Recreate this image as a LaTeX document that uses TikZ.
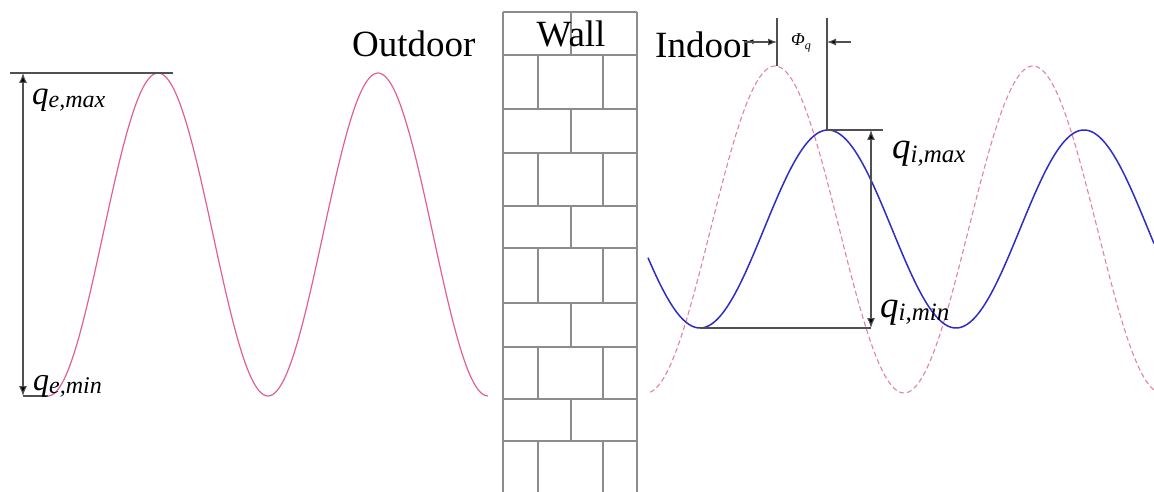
\documentclass[tikz,border=0pt]{standalone}
\usepackage{fontspec}
\setmainfont{Liberation Serif}
\usetikzlibrary{arrows.meta}
\definecolor{pinkc}{RGB}{225,95,150}
\definecolor{pinkd}{RGB}{225,130,170}
\definecolor{bluec}{RGB}{45,45,195}
\definecolor{linec}{RGB}{80,80,80}
\definecolor{wallc}{RGB}{140,140,140}
\newcommand{\qlbl}[4]{{\fontsize{#1}{#1}\selectfont\itshape q\raisebox{-3pt}{\fontsize{#2}{#2}\selectfont #3}}}
\tikzset{
  guide/.style={draw=linec, line width=1.1pt},
  dimarrow/.style={guide, {Latex[length=10pt,width=8pt,fill=black]}-{Latex[length=10pt,width=8pt,fill=black]}},
  onearrow/.style={guide, -{Latex[length=9pt,width=7pt,fill=black]}},
  wallline/.style={draw=wallc, line width=1.8pt},
  bigtext/.style={inner sep=0pt, font=\fontsize{37}{37}\selectfont},
  lbl/.style={inner sep=0pt, anchor=base west}
}
\begin{document}
\begin{tikzpicture}[x=1pt,y=-1pt]
\useasboundingbox (0,0) rectangle (1154,492);
% ---------- wall ----------
\foreach \yy in {12,55,109,153,206,248,303,347,399,441}
  \draw[wallline] (503,\yy) -- (637,\yy);
\draw[wallline] (503,12) -- (503,492);
\draw[wallline] (637,12) -- (637,492);
\foreach \ya/\yb in {12/55,109/153,206/248,303/347,399/441}
  \draw[wallline] (571,\ya) -- (571,\yb);
\foreach \ya/\yb in {55/109,153/206,248/303,347/399,441/492}{
  \draw[wallline] (538,\ya) -- (538,\yb);
  \draw[wallline] (603,\ya) -- (603,\yb);
}
\node[bigtext, anchor=base] (wall) at (571,47) {Wall};
\node[bigtext, anchor=base west] (outdoor) at (352,57) {Outdoor};
\node[bigtext, anchor=base west] (indoor) at (655,58) {Indoor};
% ---------- outdoor curve ----------
\draw[pinkc, line width=1.2pt] plot[domain=48:488, samples=220, smooth] (\x,{234.5+161.5*cos((\x-48)/220*360)});
\coordinate (emaxL) at (10,73);
\coordinate (emaxR) at (173,73);
\coordinate (etop) at (23,73);
\coordinate (ebot) at (23,396);
\coordinate (eminR) at (48,396);
\draw[guide] (emaxL) -- (emaxR);
\draw[guide] (ebot) -- (eminR);
\draw[dimarrow] (etop) -- (ebot);
\node[lbl] (qemax) at (32,105) {\qlbl{33}{24}{e,max}{}};
\node[lbl] (qemin) at (33,390) {\qlbl{32}{24}{e,min}{}};
% ---------- indoor curves ----------
\draw[pinkd, line width=1.1pt, dash pattern=on 5pt off 3pt] plot[domain=650:1154, samples=250, smooth] (\x,{229.5-163.5*cos((\x-775)/258*360)});
\draw[bluec, line width=1.5pt] plot[domain=648:1154, samples=250, smooth] (\x,{229-99*cos((\x-828)/256*360)});
% phase shift
\coordinate (pL1) at (777,18);
\coordinate (pL2) at (777,66);
\coordinate (pR1) at (827,18);
\coordinate (pR2) at (827,130);
\draw[guide] (pL1) -- (pL2);
\draw[guide] (pR1) -- (pR2);
\coordinate (aL) at (745,42);
\coordinate (aLt) at (777,42);
\coordinate (aR) at (851,42);
\coordinate (aRt) at (827,42);
\draw[onearrow] (aL) -- (aLt);
\draw[onearrow] (aR) -- (aRt);
\node[inner sep=0pt, font=\fontsize{18}{18}\selectfont\itshape] (phi) at (801,43) {Φ\raisebox{-4pt}{\fontsize{12}{12}\selectfont q}};
% amplitude indoor
\coordinate (imaxL) at (827,130);
\coordinate (imaxR) at (883,130);
\coordinate (itop) at (871,130);
\coordinate (ibot) at (871,328);
\coordinate (iminL) at (700,328);
\draw[guide] (imaxL) -- (imaxR);
\draw[guide] (iminL) -- (ibot);
\draw[dimarrow] (itop) -- (ibot);
\node[lbl] (qimax) at (892,159) {\qlbl{37}{25}{i,max}{}};
\node[lbl] (qimin) at (880,317) {\qlbl{37}{25}{i,min}{}};
\end{tikzpicture}
\end{document}
